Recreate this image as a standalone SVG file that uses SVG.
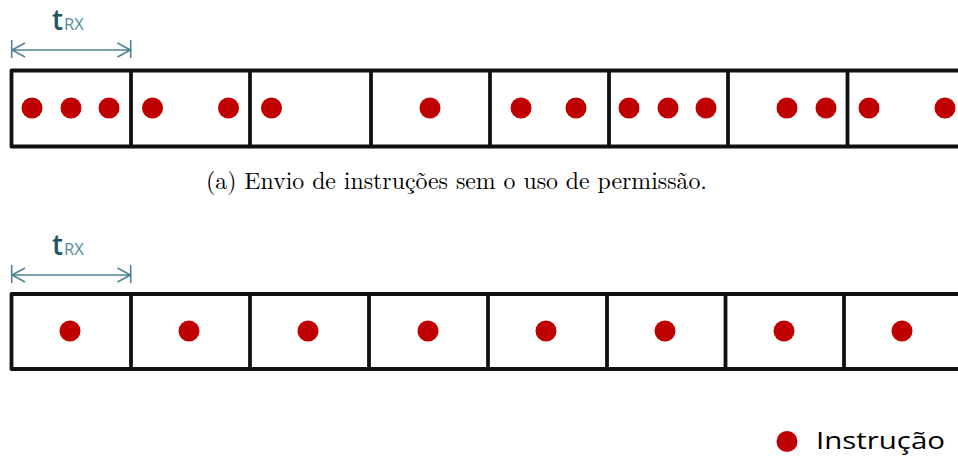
<svg xmlns="http://www.w3.org/2000/svg" width="958" height="457" viewBox="0 0 958 457">
<style>
.frame{fill:none;stroke:#111;stroke-width:3.8;stroke-linejoin:round}
.div{stroke:#111;stroke-width:3.8}
.dot{fill:#c00000}
.dim{stroke:#4e8494;stroke-width:1.6;fill:none}
.t{font-family:"Open Sans","Noto Sans",sans-serif;fill:#1f5566;font-size:28px;font-weight:600}
.rx{font-family:"Open Sans","Noto Sans",sans-serif;fill:#4e8ca0;font-size:16.5px}
.cap{font-family:"Latin Modern Roman","Liberation Serif",serif;font-size:23.8px;fill:#000}
.leg{font-family:"Open Sans","Noto Sans",sans-serif;font-size:23px;fill:#000}
</style>
<rect width="958" height="457" fill="#fff"/>
<g id="strip-a">
<path class="frame" d="M960 70.5 H11.5 V146.5 H960"/>
<line class="div" x1="131" y1="70.5" x2="131" y2="146.5"/>
<line class="div" x1="250" y1="70.5" x2="250" y2="146.5"/>
<line class="div" x1="371" y1="70.5" x2="371" y2="146.5"/>
<line class="div" x1="490" y1="70.5" x2="490" y2="146.5"/>
<line class="div" x1="609" y1="70.5" x2="609" y2="146.5"/>
<line class="div" x1="728" y1="70.5" x2="728" y2="146.5"/>
<line class="div" x1="847.5" y1="70.5" x2="847.5" y2="146.5"/>
<g class="dot">
<circle cx="32" cy="108" r="10.5"/><circle cx="71" cy="108" r="10.5"/><circle cx="109" cy="108" r="10.5"/>
<circle cx="152.5" cy="108" r="10.5"/><circle cx="228.5" cy="108" r="10.5"/>
<circle cx="271.5" cy="108" r="10.5"/>
<circle cx="430" cy="108" r="10.5"/>
<circle cx="521" cy="108" r="10.5"/><circle cx="576" cy="108" r="10.5"/>
<circle cx="629" cy="108" r="10.5"/><circle cx="668" cy="108" r="10.5"/><circle cx="706" cy="108" r="10.5"/>
<circle cx="787" cy="108" r="10.5"/><circle cx="826" cy="108" r="10.5"/>
<circle cx="869" cy="108" r="10.5"/><circle cx="945" cy="108" r="10.5"/>
</g>
</g>
<g id="dim-a">
<path class="dim" d="M11.7 40 V58 M130.7 40 V58 M11.7 50 H130.7 M25 43 L12 50 L25 57 M117.5 43 L130.5 50 L117.5 57"/>
<text x="52" y="30"><tspan class="t">t</tspan><tspan class="rx" dx="1">RX</tspan></text>
</g>
<g id="caption-a">
<text class="cap" x="456.5" y="189" text-anchor="middle">(a) Envio de instruções sem o uso de permissão.</text>
</g>
<g id="strip-b">
<path class="frame" d="M960 294 H11.5 V369 H960"/>
<line class="div" x1="131" y1="294" x2="131" y2="369"/>
<line class="div" x1="250" y1="294" x2="250" y2="369"/>
<line class="div" x1="369" y1="294" x2="369" y2="369"/>
<line class="div" x1="488" y1="294" x2="488" y2="369"/>
<line class="div" x1="607" y1="294" x2="607" y2="369"/>
<line class="div" x1="725.5" y1="294" x2="725.5" y2="369"/>
<line class="div" x1="844" y1="294" x2="844" y2="369"/>
<g class="dot">
<circle cx="70" cy="331" r="10.5"/><circle cx="189" cy="331" r="10.5"/><circle cx="308" cy="331" r="10.5"/>
<circle cx="428" cy="331" r="10.5"/><circle cx="546" cy="331" r="10.5"/><circle cx="665" cy="331" r="10.5"/>
<circle cx="784" cy="331" r="10.5"/><circle cx="902" cy="331" r="10.5"/>
</g>
</g>
<g id="dim-b">
<path class="dim" d="M11.7 265 V283 M130.7 265 V283 M11.7 275 H130.7 M25 268 L12 275 L25 282 M117.5 268 L130.5 275 L117.5 282"/>
<text x="52" y="255"><tspan class="t">t</tspan><tspan class="rx" dx="1">RX</tspan></text>
</g>
<g id="legend">
<circle class="dot" cx="787" cy="441.5" r="10.5"/>
<text class="leg" x="816" y="449" textLength="129" lengthAdjust="spacingAndGlyphs">Instrução</text>
</g>
</svg>
